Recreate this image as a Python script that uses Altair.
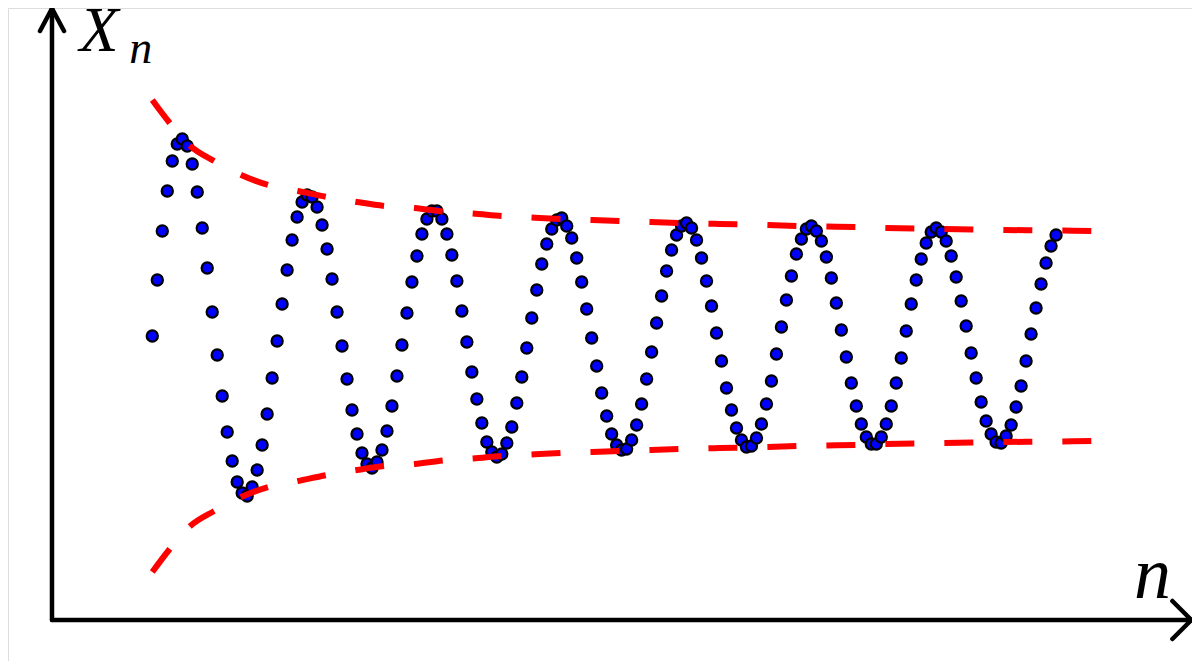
import altair as alt
import pandas as pd

# ---- data ----
n_vals = list(range(182))
x_vals = [
    0.00, 0.56, 1.05, 1.45, 1.75, 1.92, 1.97, 1.90, 1.72, 1.44,
    1.08, 0.68, 0.24, -0.19, -0.60, -0.96, -1.25, -1.46, -1.57, -1.60,
    -1.51, -1.34, -1.09, -0.78, -0.42, -0.05, 0.32, 0.66, 0.96, 1.19,
    1.34, 1.41, 1.39, 1.29, 1.11, 0.87, 0.57, 0.24, -0.10, -0.43,
    -0.74, -0.98, -1.17, -1.28, -1.32, -1.26, -1.14, -0.95, -0.70, -0.40,
    -0.09, 0.23, 0.54, 0.80, 1.02, 1.17, 1.25, 1.25, 1.17, 1.02,
    0.81, 0.55, 0.25, -0.06, -0.36, -0.63, -0.87, -1.06, -1.16, -1.21,
    -1.18, -1.07, -0.91, -0.67, -0.41, -0.12, 0.18, 0.46, 0.72, 0.92,
    1.07, 1.16, 1.18, 1.10, 0.98, 0.78, 0.54, 0.27, -0.02, -0.30,
    -0.57, -0.80, -0.98, -1.09, -1.14, -1.13, -1.04, -0.89, -0.68, -0.43,
    -0.16, 0.13, 0.40, 0.65, 0.86, 1.01, 1.10, 1.13, 1.08, 0.96,
    0.78, 0.55, 0.30, 0.03, -0.25, -0.52, -0.74, -0.92, -1.04, -1.11,
    -1.10, -1.02, -0.88, -0.68, -0.45, -0.18, 0.09, 0.36, 0.60, 0.82,
    0.97, 1.07, 1.10, 1.05, 0.95, 0.79, 0.58, 0.33, 0.06, -0.21,
    -0.47, -0.70, -0.88, -1.01, -1.08, -1.08, -1.01, -0.88, -0.70, -0.47,
    -0.22, 0.05, 0.32, 0.56, 0.77, 0.93, 1.04, 1.08, 1.04, 0.95,
    0.80, 0.59, 0.35, 0.10, -0.17, -0.42, -0.66, -0.85, -0.98, -1.06,
    -1.07, -1.00, -0.89, -0.71, -0.50, -0.25, 0.02, 0.28, 0.52, 0.73,
    0.90, 1.01,
]

env_n = [0, 3.5, 7.6, 12.4, 17.8, 23.2, 29.2, 35.0, 41.0, 46.6,
         52.6, 58.2, 64.2, 70.2, 77.6, 82.0, 88.1, 93.7, 99.9, 105.5,
         113.7, 123.3, 129.1, 135.1, 141.1, 146.9, 158.7, 170.6, 182.4, 188.8]
env_upper = [2.36, 2.13, 1.90, 1.75, 1.61, 1.51, 1.45, 1.39, 1.34, 1.30,
             1.28, 1.245, 1.225, 1.20, 1.18, 1.17, 1.16, 1.15, 1.14, 1.13,
             1.12, 1.11, 1.10, 1.095, 1.09, 1.08, 1.07, 1.06, 1.055, 1.05]
env_lower = [-2.36, -2.13, -1.90, -1.75, -1.61, -1.51, -1.45, -1.39, -1.34, -1.30,
             -1.28, -1.245, -1.225, -1.20, -1.18, -1.17, -1.16, -1.15, -1.14, -1.13,
             -1.12, -1.11, -1.10, -1.095, -1.09, -1.08, -1.07, -1.06, -1.055, -1.05]

# axis frame (in data units)
X_DOMAIN = [-28.90, 208.23]
Y_DOMAIN = [-3.25, 3.28]
AX_N0, AX_N1 = -20.09, 208.1
AX_X0, AX_X1 = -2.84, 3.275

W, H = 1184, 653

xs = alt.Scale(domain=X_DOMAIN, nice=False, zero=False)
ys = alt.Scale(domain=Y_DOMAIN, nice=False, zero=False)

pts = pd.DataFrame({"n": n_vals, "X": x_vals})
env = pd.DataFrame({
    "n": env_n * 2,
    "X": env_upper + env_lower,
    "side": ["upper"] * len(env_n) + ["lower"] * len(env_n),
})

axes_df = pd.DataFrame({
    "n": [AX_N0, AX_N0, AX_N0, AX_N1,
          -22.49, AX_N0, -17.68,
          204.3, AX_N1, 204.3],
    "X": [AX_X0, AX_X1, AX_X0, AX_X0,
          3.05, AX_X1, 3.05,
          -2.65, AX_X0, -3.03],
    "seg": ["v", "v", "h", "h", "a1", "a1", "a1", "a2", "a2", "a2"],
    "o": [0, 1, 0, 1, 0, 1, 2, 0, 1, 2],
})

labels = pd.DataFrame({
    "n": [-14.6, -4.6, 196.6],
    "X": [2.85, 2.73, -2.62],
    "t": ["X", "n", "n"],
    "s": [64, 46, 74],
})

enc_x = alt.X("n:Q", scale=xs, axis=None)
enc_y = alt.Y("X:Q", scale=ys, axis=None)

axes_layer = alt.Chart(axes_df).mark_line(
    color="black", strokeWidth=4.5, strokeCap="round", strokeJoin="miter"
).encode(x=enc_x, y=enc_y, detail="seg:N", order="o:Q")

points_layer = alt.Chart(pts).mark_point(
    filled=True, fill="#0000ff", stroke="black", strokeWidth=2.2,
    size=125, opacity=1, shape="circle"
).encode(x=enc_x, y=enc_y, order="n:Q")

env_layer = alt.Chart(env).mark_line(
    color="#ff0000", strokeWidth=6, strokeDash=[29, 30], strokeCap="butt",
    interpolate="monotone"
).encode(x=enc_x, y=enc_y, detail="side:N", order="n:Q")

text_layer = alt.Chart(labels).mark_text(
    font="Liberation Serif", fontStyle="italic", align="left",
    baseline="alphabetic", color="black"
).encode(x=enc_x, y=enc_y, text="t:N",
         size=alt.Size("s:Q", scale=None, legend=None))

chart = alt.layer(axes_layer, points_layer, env_layer, text_layer).properties(
    width=W, height=H, padding=0,
    autosize=alt.AutoSizeParams(type="none"),
).configure_view(strokeWidth=0).configure(background="white")

chart.save("out.html", embed_options={"renderer": "svg", "actions": False})
